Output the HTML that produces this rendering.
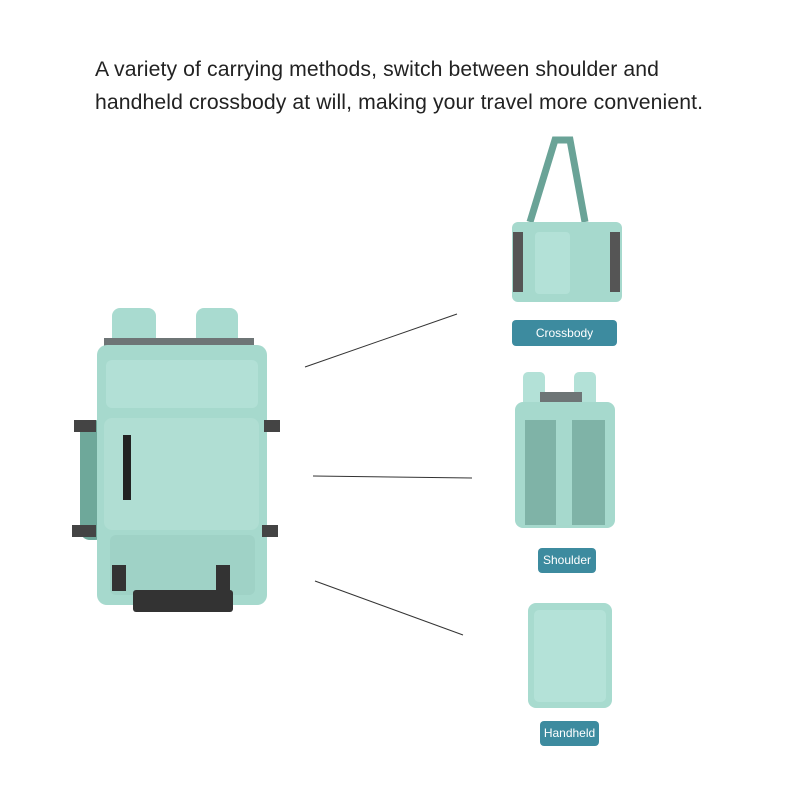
<!DOCTYPE html>
<html><head><style>
body{margin:0;width:800px;height:800px;background:#fff;position:relative;overflow:hidden;font-family:"Liberation Sans",sans-serif}
.t{position:absolute;left:95px;font-size:21.2px;color:#222;letter-spacing:0.1px}
.lab{position:absolute;background:#3d8b9f;color:#fff;font-size:12px;text-align:center;border-radius:4px}
.a{position:absolute}
</style></head><body>
<div class="t" style="top:58px">A variety of carrying methods, switch between shoulder and</div>
<div class="t" style="top:91px">handheld crossbody at will, making your travel more convenient.</div>
<svg class="a" style="left:0;top:0" width="800" height="800">
<line x1="305" y1="367" x2="457" y2="314" stroke="#333" stroke-width="1"/>
<line x1="313" y1="476" x2="472" y2="478" stroke="#333" stroke-width="1"/>
<line x1="315" y1="581" x2="463" y2="635" stroke="#333" stroke-width="1"/>
<rect x="112" y="308" width="44" height="40" rx="8" fill="#a9dbd0"/>
<rect x="196" y="308" width="42" height="40" rx="8" fill="#a9dbd0"/>
<rect x="104" y="338" width="150" height="30" fill="#6e7576"/>
<rect x="80" y="420" width="25" height="120" rx="10" fill="#6ea89a"/>
<rect x="97" y="345" width="170" height="260" rx="10" fill="#a6d9cd"/>
<rect x="106" y="360" width="152" height="48" rx="6" fill="#b2e0d6"/>
<rect x="104" y="418" width="155" height="112" rx="8" fill="#b0ded3"/>
<rect x="123" y="435" width="8" height="65" fill="#222"/>
<rect x="110" y="535" width="145" height="60" rx="6" fill="#9fd2c6"/>
<rect x="133" y="590" width="100" height="22" rx="3" fill="#333"/>
<rect x="112" y="565" width="14" height="26" fill="#333"/>
<rect x="216" y="565" width="14" height="26" fill="#333"/>
<rect x="74" y="420" width="22" height="12" fill="#444"/>
<rect x="264" y="420" width="16" height="12" fill="#444"/>
<rect x="72" y="525" width="24" height="12" fill="#444"/>
<rect x="262" y="525" width="16" height="12" fill="#444"/>
<path d="M530 222 L555 140 L570 140 L585 222" fill="none" stroke="#6aa397" stroke-width="7"/>
<rect x="512" y="222" width="110" height="80" rx="6" fill="#a6d9cd"/>
<rect x="535" y="232" width="35" height="62" rx="4" fill="#b3e1d7"/>
<rect x="513" y="232" width="10" height="60" fill="#555"/>
<rect x="610" y="232" width="10" height="60" fill="#555"/>
<rect x="523" y="372" width="22" height="40" rx="5" fill="#b3e1d7"/>
<rect x="574" y="372" width="22" height="40" rx="5" fill="#b3e1d7"/>
<rect x="540" y="392" width="42" height="18" fill="#6e7576"/>
<rect x="515" y="402" width="100" height="126" rx="8" fill="#a6d9cd"/>
<rect x="525" y="420" width="80" height="105" fill="#7fb3a7"/>
<rect x="556" y="420" width="16" height="105" fill="#a6d9cd"/>
<rect x="528" y="603" width="84" height="105" rx="8" fill="#a8dbcf"/>
<rect x="534" y="610" width="72" height="92" rx="5" fill="#b4e2d8"/>
</svg>
<div class="lab" style="left:512px;top:320px;width:105px;height:26px;line-height:26px">Crossbody</div>
<div class="lab" style="left:538px;top:548px;width:58px;height:25px;line-height:25px">Shoulder</div>
<div class="lab" style="left:540px;top:721px;width:59px;height:25px;line-height:25px">Handheld</div>
</body></html>
